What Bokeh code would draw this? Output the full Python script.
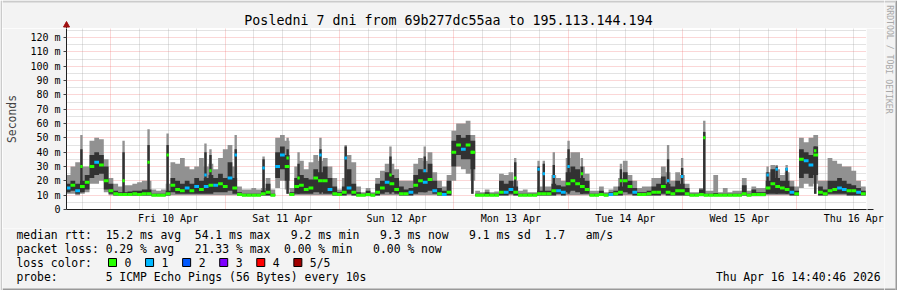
from bokeh.plotting import figure
from bokeh.models import Range1d, FixedTicker, Arrow, NormalHead, ColumnDataSource
from bokeh.layouts import row, column
from bokeh.core.properties import value
from bokeh.embed import file_html
from bokeh.resources import INLINE

# ---------------- data (hours since Thu 9 Apr 00:00) ----------------
# hourly consolidated smoke: median, dark band (inner pings), light band (outer pings), loss
hours = list(range(15, 183))
median = [15, 17, 13, 16, 19, 30, 33, 31, 20, 13,
          11, 10.5, 10.5, 10.5, 11, 10.5, 11, 11, 10, 10,
          10, 11, 17, 14, 13, 15, 13, 16, 14, 16,
          17, 17, 18, 16, 22, 15, 10.5, 10, 10, 10,
          10, 11, 12, 10, 30, 38, 30, 10.5, 16, 17,
          14, 15, 22, 20, 20, 14, 11, 10.5, 12, 15,
          12, 10, 10, 10.5, 10, 12, 15, 19, 18, 14,
          11, 11, 12, 17, 20, 19, 21, 13, 11, 10.5,
          12, 40, 45, 42, 45, 40, 10, 10, 10, 10,
          10, 12, 12, 14, 12, 10, 10, 10, 10, 11,
          11, 11, 13, 13, 12, 18, 20, 18, 16, 14,
          10, 10, 10.5, 10, 10.5, 11, 12, 20, 16, 12,
          10.5, 10.5, 11, 12, 12, 16, 12, 11, 13, 13,
          11, 10, 10, 10.5, 10, 10, 10, 10, 10, 10,
          10, 10, 11, 10, 10.5, 10.5, 10.5, 15, 18, 16,
          15, 14, 12, 11, 35, 34, 31, 38, 12, 11,
          13, 14, 15, 14, 13, 13, 12, 11]
dark_lo = [12, 13, 11, 12, 14, 22, 24, 25, 14, 11,
           10, 10, 10, 10, 10, 10, 10, 10, 9.5, 9.5,
           9.5, 10, 12, 11, 11, 11, 11, 11, 11, 11,
           11, 12, 12, 12, 13, 11, 10, 9.5, 9.5, 9.5,
           9.5, 10, 10, 9.5, 22, 28, 20, 10, 11, 11,
           11, 11, 12, 12, 11, 11, 10, 10, 10, 11,
           10, 9.5, 9.5, 10, 9.5, 10, 11, 12, 12, 11,
           10, 10, 10, 11, 12, 12, 13, 11, 10, 10,
           10, 30, 38, 35, 35, 28, 9.5, 9.5, 9.5, 9.5,
           9.5, 10, 10, 11, 10, 9.5, 9.5, 9.5, 9.5, 10,
           10, 10, 10, 11, 10, 12, 13, 12, 11, 11,
           9.5, 9.5, 10, 9.5, 10, 10, 10, 12, 11, 10,
           10, 10, 10, 10, 10, 11, 10, 10, 10, 10,
           10, 9.5, 9.5, 10, 9.5, 9.5, 9.5, 9.5, 9.5, 9.5,
           9.5, 9.5, 10, 9.5, 10, 10, 10, 11, 11, 11,
           11, 11, 10, 10, 22, 25, 22, 24, 10, 10,
           11, 11, 11, 11, 10, 10, 10, 10]
dark_hi = [18, 20, 18, 20, 24, 38, 40, 38, 30, 18,
           13, 12, 12, 12.5, 13, 13, 14, 14, 11, 11,
           11, 13, 22, 20, 18, 20, 18, 22, 20, 22,
           24, 22, 25, 22, 33, 22, 12, 11, 11, 11,
           11, 13, 18, 11, 40, 44, 38, 12, 22, 24,
           22, 21, 28, 26, 30, 22, 16, 12, 16, 28,
           18, 12, 11, 13, 11, 18, 20, 26, 24, 22,
           16, 14, 15, 24, 28, 26, 32, 20, 15, 13,
           20, 48, 52, 50, 52, 48, 11, 11, 12, 11,
           11, 20, 18, 20, 16, 11, 11, 11, 11, 13,
           13, 13, 18, 17, 16, 26, 30, 28, 22, 20,
           11, 11, 13, 11, 12, 13, 16, 26, 20, 15,
           12, 12, 13, 16, 18, 23, 18, 16, 20, 18,
           15, 11, 11, 14, 11, 11, 11.5, 11, 11, 11,
           11, 11, 17, 11, 14, 12, 12, 20, 28, 22,
           20, 20, 16, 13, 42, 40, 38, 44, 16, 14,
           20, 20, 22, 20, 18, 17, 15, 13]
smoke_min = [11, 11, 10, 11, 12, 18, 18, 20, 12, 10,
             9.5, 9.5, 9.5, 9.5, 9.5, 9.5, 9.5, 9.5, 9.3, 9.3,
             9.3, 9.5, 10, 10, 10, 10, 10, 10, 10, 10,
             10, 10, 10, 10, 10, 10, 9.5, 9.3, 9.3, 9.3,
             9.3, 9.5, 9.5, 9.3, 15, 20, 14, 9.5, 10, 10,
             10, 10, 10, 10, 10, 10, 9.5, 9.5, 9.5, 10,
             9.5, 9.3, 9.3, 9.3, 9.3, 9.5, 10, 10, 10, 10,
             9.5, 9.5, 9.5, 10, 10, 10, 10, 10, 9.5, 9.5,
             9.5, 20, 30, 28, 25, 20, 9.3, 9.3, 9.3, 9.3,
             9.3, 9.5, 9.5, 10, 9.5, 9.3, 9.3, 9.3, 9.3, 9.5,
             9.5, 9.5, 9.5, 10, 9.5, 10, 10, 10, 10, 10,
             9.3, 9.3, 9.5, 9.3, 9.5, 9.5, 9.5, 10, 10, 9.5,
             9.5, 9.5, 9.5, 9.5, 9.5, 10, 9.5, 9.5, 9.5, 9.5,
             9.5, 9.3, 9.3, 9.3, 9.3, 9.3, 9.3, 9.3, 9.3, 9.3,
             9.3, 9.3, 9.5, 9.3, 9.3, 9.3, 9.3, 10, 10, 10,
             10, 10, 9.5, 9.5, 15, 18, 16, 18, 9.5, 9.5,
             10, 10, 10, 10, 9.5, 9.5, 9.5, 9.5]
smoke_max = [24, 30, 33, 30, 30, 48, 50, 49, 35, 22,
             18, 16, 17, 17, 18, 19, 20, 20, 14, 13,
             14, 18, 33, 32, 36, 30, 28, 30, 36, 30,
             32, 28, 36, 42, 45, 30, 16, 14, 14, 15,
             14, 15, 22, 14, 50, 52, 48, 15, 30, 34,
             28, 33, 38, 34, 36, 30, 22, 14, 22, 38,
             33, 16, 12, 15, 12, 22, 27, 32, 32, 28,
             20, 20, 20, 32, 36, 34, 40, 26, 20, 16,
             24, 55, 60, 60, 62, 52, 13, 12, 14, 12,
             12.5, 25, 24, 26, 20, 13, 14, 12, 12, 16,
             16, 16, 24, 22, 20, 36, 40, 40, 30, 25,
             13, 13, 16, 12, 14, 16, 22, 34, 24, 20,
             15, 16, 16, 22, 22, 30, 26, 20, 26, 24,
             18, 12, 12, 15, 13, 13, 24, 12, 15, 12,
             13, 13, 22, 13, 16, 15, 15, 26, 31, 28,
             24, 26, 20, 16, 50, 47, 50, 52, 20, 20,
             36, 34, 32, 30, 30, 27, 20, 16]
loss = [1, 0, 1, 0, 0, 0, 1, 0, 0, 0,
        0, 0, 0, 0, 0, 0, 0, 0, 0, 0,
        0, 0, 0, 0, 0, 1, 0, 1, 0, 1,
        0, 1, 0, 0, 1, 0, 0, 0, 0, 0,
        0, 0, 0, 0, 1, 1, 0, 0, 0, 0,
        0, 0, 0, 0, 0, 1, 0, 0, 0, 1,
        0, 0, 0, 0, 0, 0, 0, 1, 0, 0,
        0, 0, 1, 0, 0, 1, 0, 1, 0, 1,
        0, 0, 0, 1, 0, 0, 0, 0, 0, 0,
        0, 0, 1, 1, 0, 0, 0, 0, 0, 0,
        0, 0, 0, 1, 1, 0, 0, 0, 0, 0,
        0, 0, 0, 0, 1, 0, 0, 0, 0, 1,
        0, 0, 0, 0, 0, 0, 0, 0, 0, 0,
        0, 0, 0, 0, 0, 0, 0, 0, 0, 0,
        0, 0, 0, 0, 0, 0, 0, 0, 0, 0,
        0, 0, 1, 0, 0, 1, 1, 0, 0, 0,
        0, 0, 1, 1, 0, 0, 1, 0]

# short latency spikes (half-hour wide)
spike_t = [17.8, 26.65, 31.9, 35.9, 43.85, 44.9, 50.2, 56.05, 61.1, 63.4,
           68.0, 73.3, 82.7, 89.9, 99.9, 108.9, 113.8, 114.9, 117.0, 120.1,
           122.9, 131.1, 141.0, 143.95, 148.6, 161.9, 163.8, 165.9, 171.9]
spike_med = [30, 20, 33, 38, 24, 27, 38, 29, 36, 22,
             38, 36, 24, 27, 40, 22, 28, 25, 23, 30,
             25, 20, 20, 23, 50, 24, 28, 28, 41]
spike_lo = [12, 11, 11, 11, 12, 12, 12, 11, 11, 11,
            11, 11, 11, 12, 11, 11, 11, 11, 11, 11,
            11, 11, 11, 11, 11, 11, 11, 11, 11]
spike_hi = [42, 40, 45, 45, 40, 38, 42, 35, 42, 32,
            42, 44, 37, 37, 45, 33, 30, 32, 31, 42,
            30, 28, 35, 29, 54, 26, 30, 29, 44]
spike_max = [52, 48, 56, 53, 46, 42, 52, 37, 50, 40,
             50, 45, 44, 44, 52, 36, 34, 34, 40, 48,
             36, 32, 45, 36, 62, 30, 31, 31, 52]
spike_loss = [0, 0, 0, 0, 1, 0, 1, 1, 0, 0,
              1, 1, 0, 1, 0, 0, 1, 1, 1, 1,
              0, 0, 1, 1, 0, 1, 1, 1, 0]

t_start, t_end = 14.667, 182.667          # Thu 9 Apr 14:40 .. Thu 16 Apr 14:40
day_ticks = [36, 60, 84, 108, 132, 156, 180]
day_labels = ["Fri 10 Apr", "Sat 11 Apr", "Sun 12 Apr", "Mon 13 Apr",
              "Tue 14 Apr", "Wed 15 Apr", "Thu 16 Apr"]
midnights = [24, 48, 72, 96, 120, 144, 168]
loss_colors = ["#26ff00", "#00b8ff", "#0059ff", "#7e00ff", "#ff0000", "#a00000"]
loss_names = ["0", "1", "2", "3", "4", "5/5"]

title = "Posledni 7 dni from 69b277dc55aa to 195.113.144.194"
legend_lines = [
    "median rtt:  15.2 ms avg  54.1 ms max   9.2 ms min   9.3 ms now   9.1 ms sd  1.7   am/s",
    "packet loss: 0.29 % avg   21.33 % max  0.00 % min   0.00 % now",
]
probe_line = "probe:       5 ICMP Echo Pings (56 Bytes) every 10s"
stamp = "Thu Apr 16 14:40:46 2026"

MONO = "DejaVu Sans Mono"
BG = "#f3f3f3"
SHADE_A, SHADE_B = "#cbcbcb", "#999999"
LIGHT, DARK = "#919191", "#323232"
NB = "\u00a0"

# ---------------- layout geometry (canvas px) ----------------
W, H = 897, 290
LW, RW = 2, 13                  # left / right strips
CW = W - LW - RW                # central column width
TOP_H, BOT_H = 28, 62
MAIN_H = H - TOP_H - BOT_H
FL, FR, FB = 66, 866, 209       # frame left / right / bottom (canvas)
YMAX = (FB - TOP_H) / 1.4333


def aux(width, height, x0, x1, y0, y1):
    f = figure(width=width, height=height, output_backend="svg", toolbar_location=None,
               x_range=Range1d(x0, x1), y_range=Range1d(y0, y1), min_border=0,
               x_axis_location=None, y_axis_location=None, frame_align=False)
    f.grid.visible = False
    f.outline_line_color = None
    f.background_fill_color = BG
    f.border_fill_color = BG
    return f


def txt(f, x, y, s, size, align="left", color="#000000", angle=0.0):
    f.text(x=[x], y=[y], text=[s.replace(" ", NB)], text_font=value(MONO),
           text_font_size=value(size), text_align=align, text_baseline="middle",
           text_color=color, angle=angle)


# ---- top strip: title + y axis arrow ----
pt = aux(CW, TOP_H, LW, LW + CW, TOP_H, 0)
pt.quad(left=[LW], right=[LW + CW], top=[0], bottom=[2], fill_color=SHADE_A, line_color=None)
txt(pt, 448, 19.5, title, "13.3px", align="center")
pt.segment(x0=[FL], x1=[FL], y0=[TOP_H], y1=[24], line_color="#202020", line_width=1)
pt.patch(x=[FL - 3, FL + 3, FL], y=[26.5, 26.5, 21], fill_color="#a01010", line_color="#a01010")

# ---- main chart ----
p = figure(width=CW, height=MAIN_H, output_backend="svg", toolbar_location=None,
           x_range=Range1d(t_start, t_end), y_range=Range1d(0, YMAX),
           min_border_left=FL - LW, min_border_right=LW + CW - FR, min_border_top=0,
           min_border_bottom=TOP_H + MAIN_H - FB, frame_align=False)
p.border_fill_color = BG
p.background_fill_color = "#ffffff"
p.outline_line_color = None

p.xgrid.ticker = FixedTicker(ticks=midnights,
                             minor_ticks=[h for h in range(18, 183, 6) if h % 24 != 0])
p.ygrid.ticker = FixedTicker(ticks=list(range(0, 130, 10)), minor_ticks=list(range(5, 130, 10)))
for g in (p.xgrid, p.ygrid):
    g.grid_line_color = "#f06060"
    g.grid_line_alpha = 0.5
    g.grid_line_dash = "1 1"
    g.minor_grid_line_color = "#a0a0a0"
    g.minor_grid_line_alpha = 0.6
    g.minor_grid_line_dash = "1 1"

p.xaxis.ticker = FixedTicker(ticks=day_ticks)
p.xaxis.major_label_overrides = dict(zip(day_ticks, day_labels))
p.xaxis.major_tick_out = 0
p.xaxis.major_tick_in = 0
p.xaxis.minor_tick_out = 0
p.xaxis.minor_tick_in = 0
p.xaxis.major_label_standoff = 3
p.yaxis.ticker = FixedTicker(ticks=list(range(0, 130, 10)), minor_ticks=list(range(5, 130, 10)))
p.yaxis.major_label_overrides = {v: ("0" if v == 0 else f"{v} m") for v in range(0, 130, 10)}
p.yaxis.major_tick_out = 3
p.yaxis.major_tick_in = 0
p.yaxis.minor_tick_out = 0
p.yaxis.minor_tick_in = 0
p.yaxis.major_tick_line_color = "#404040"
p.yaxis.major_label_standoff = 3
p.yaxis.axis_label = "Seconds"
p.yaxis.axis_label_text_font = MONO
p.yaxis.axis_label_text_font_size = "11.4px"
p.yaxis.axis_label_text_font_style = "normal"
p.yaxis.axis_label_standoff = 8
for ax in (p.xaxis, p.yaxis):
    ax.axis_line_color = "#202020"
    ax.major_label_text_font = MONO
    ax.major_label_text_font_size = "10px"
    ax.major_label_text_color = "#000000"

xs = [h - 0.5 for h in hours] + [hours[-1] + 0.5]


def ext(a):
    return list(a) + [a[-1]]


spk = ColumnDataSource(dict(t=spike_t, lo=spike_lo, hi=spike_hi, mx=spike_max, med=spike_med,
                            x0=[t - 0.25 for t in spike_t], x1=[t + 0.25 for t in spike_t],
                            c=[loss_colors[l] for l in spike_loss]))

p.varea_step(x=xs, y1=ext(smoke_min), y2=ext(smoke_max), step_mode="after", fill_color=LIGHT)
p.vbar(x="t", width=0.5, bottom="lo", top="mx", fill_color=LIGHT, line_color=None, source=spk)
p.varea_step(x=xs, y1=ext(dark_lo), y2=ext(dark_hi), step_mode="after", fill_color=DARK)
p.vbar(x="t", width=0.5, bottom="lo", top="hi", fill_color=DARK, line_color=None, source=spk)

med_src = ColumnDataSource(dict(x0=[h - 0.5 for h in hours], x1=[h + 0.5 for h in hours],
                                y=median, c=[loss_colors[l] for l in loss]))
p.segment(x0="x0", x1="x1", y0="y", y1="y", line_color="c", line_width=3, source=med_src)
p.segment(x0="x0", x1="x1", y0="med", y1="med", line_color="c", line_width=3, source=spk)

p.add_layout(Arrow(x_start=FR - FL, y_start=0, x_end=FR - FL + 7, y_end=0,
                   start_units="screen", end_units="screen", line_color="#202020",
                   end=NormalHead(size=6, fill_color="#a01010", line_color="#a01010")))

# ---- bottom legend ----
pb = aux(CW, BOT_H, LW, LW + CW, H, TOP_H + MAIN_H)
pb.quad(left=[LW], right=[LW + CW], top=[H - 2], bottom=[H], fill_color=SHADE_B, line_color=None)
txt(pb, 16, 234, legend_lines[0], "11.4px")
txt(pb, 16, 248, legend_lines[1], "11.4px")
txt(pb, 16, 262, "loss color:", "11.4px")
bx = [108 + i * 37.07 for i in range(len(loss_colors))]
pb.quad(left=bx, right=[b + 8 for b in bx], top=[258] * 6, bottom=[266] * 6,
        fill_color=loss_colors, line_color="#000000", line_width=1)
pb.text(x=[b + 16 for b in bx], y=[262] * 6, text=loss_names, text_font=value(MONO),
        text_font_size=value("11.4px"), text_baseline="middle")
txt(pb, 16, 276, probe_line, "11.4px")
txt(pb, 880, 276, stamp, "11.4px", align="right")

# ---- side strips ----
pl = aux(LW, H, 0, LW, H, 0)
pl.quad(left=[0], right=[LW], top=[0], bottom=[H], fill_color=SHADE_A, line_color=None)
pr = aux(RW, H, LW + CW, W, H, 0)
pr.quad(left=[W - 2], right=[W], top=[0], bottom=[H], fill_color=SHADE_B, line_color=None)
pr.quad(left=[LW + CW], right=[W - 2], top=[0], bottom=[2], fill_color=SHADE_A, line_color=None)
pr.quad(left=[LW + CW], right=[W - 2], top=[H - 2], bottom=[H], fill_color=SHADE_B, line_color=None)
txt(pr, 889, 59, "RRDTOOL / TOBI OETIKER", "8.2px", align="center", color="#a8a8a8",
    angle=-1.5708)

layout = row(pl, column(pt, p, pb), pr)
open("out.html", "w").write(file_html(layout, INLINE))
